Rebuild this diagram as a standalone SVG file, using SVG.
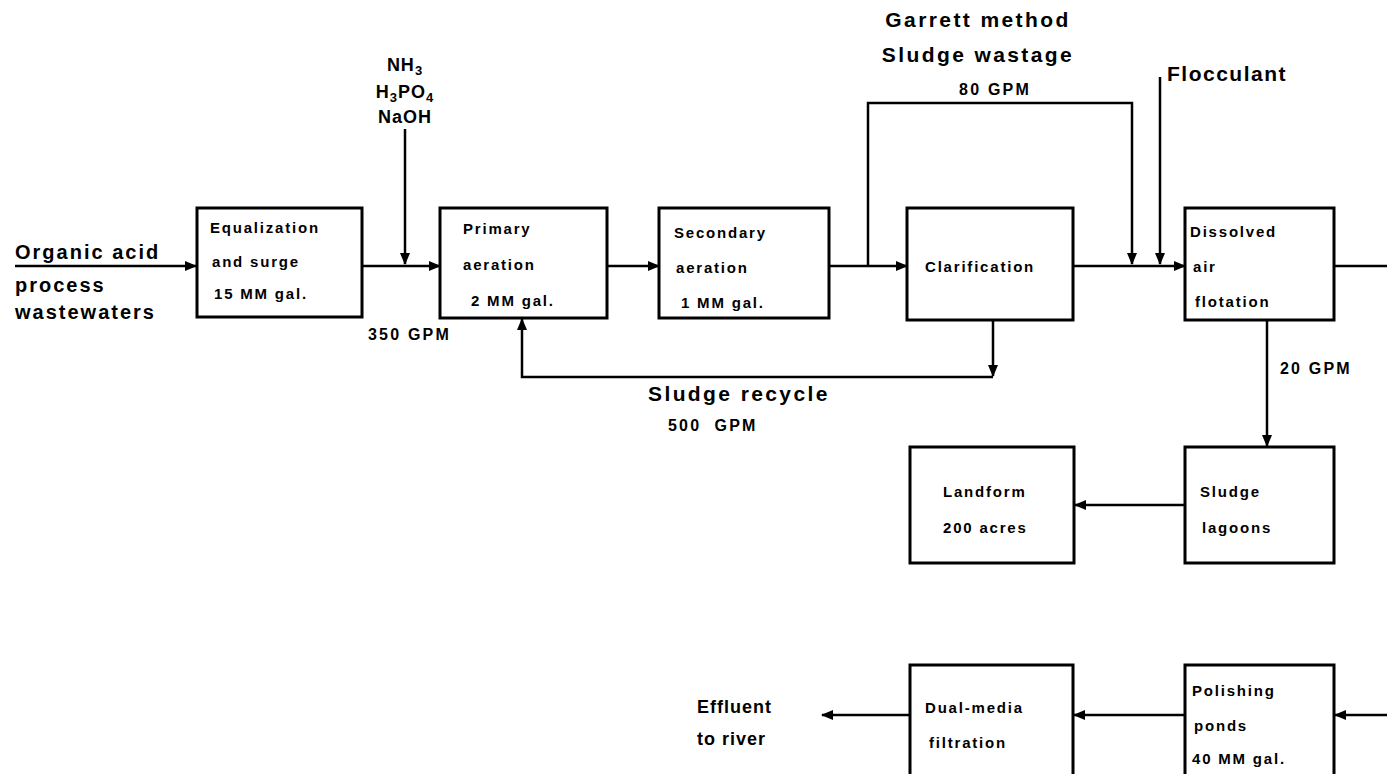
<svg xmlns="http://www.w3.org/2000/svg" width="1387" height="774" viewBox="0 0 1387 774">
<defs>
<marker id="ah" markerWidth="12" markerHeight="10" refX="11" refY="5" orient="auto" markerUnits="userSpaceOnUse">
<path d="M0,0 L12,5 L0,10 Z" fill="#000"/>
</marker>
<style>
.box{fill:#fff;stroke:#000;stroke-width:3}
.ln{fill:none;stroke:#000;stroke-width:2.5}
.bt{font-family:"Liberation Sans",Arial,sans-serif;font-weight:bold;font-size:15px;letter-spacing:1.8px;fill:#000}
.lt{font-family:"Liberation Sans",Arial,sans-serif;font-weight:bold;font-size:20px;letter-spacing:2px;fill:#000}
.ht{font-family:"Liberation Sans",Arial,sans-serif;font-weight:bold;font-size:21px;letter-spacing:2.4px;fill:#000}
.et{font-family:"Liberation Sans",Arial,sans-serif;font-weight:bold;font-size:18px;letter-spacing:1px;fill:#000}
.st{font-family:"Liberation Sans",Arial,sans-serif;font-weight:bold;font-size:16px;letter-spacing:2.2px;fill:#000}
</style>
</defs>
<rect width="1387" height="774" fill="#fff"/>

<g id="connectors">
<line class="ln" x1="15" y1="266" x2="196" y2="266" marker-end="url(#ah)"/>
<line class="ln" x1="362" y1="266" x2="440" y2="266" marker-end="url(#ah)"/>
<line class="ln" x1="405" y1="129" x2="405" y2="264" marker-end="url(#ah)"/>
<line class="ln" x1="607" y1="266" x2="659" y2="266" marker-end="url(#ah)"/>
<line class="ln" x1="829" y1="266" x2="907" y2="266" marker-end="url(#ah)"/>
<polyline class="ln" points="868,266 868,103 1132,103 1132,264" marker-end="url(#ah)"/>
<line class="ln" x1="1073" y1="266" x2="1185" y2="266" marker-end="url(#ah)"/>
<line class="ln" x1="1160" y1="77" x2="1160" y2="264" marker-end="url(#ah)"/>
<line class="ln" x1="1334" y1="266" x2="1387" y2="266"/>
<line class="ln" x1="993" y1="320" x2="993" y2="376" marker-end="url(#ah)"/>
<polyline class="ln" points="993,377 522,377 522,319" marker-end="url(#ah)"/>
<line class="ln" x1="1267" y1="321" x2="1267" y2="446" marker-end="url(#ah)"/>
<line class="ln" x1="1185" y1="505" x2="1075" y2="505" marker-end="url(#ah)"/>
<line class="ln" x1="1387" y1="715" x2="1335" y2="715" marker-end="url(#ah)"/>
<line class="ln" x1="1185" y1="715" x2="1074" y2="715" marker-end="url(#ah)"/>
<line class="ln" x1="910" y1="715" x2="822" y2="715" marker-end="url(#ah)"/>
</g>

<g id="labels">
<text class="lt" x="15" y="259">Organic acid</text>
<text class="lt" x="15" y="292">process</text>
<text class="lt" x="15" y="319">wastewaters</text>
<text class="et" x="405" y="71" text-anchor="middle">NH<tspan font-size="13" dy="4">3</tspan></text>
<text class="et" x="405" y="98" text-anchor="middle">H<tspan font-size="13" dy="4">3</tspan><tspan dy="-4">PO</tspan><tspan font-size="13" dy="4">4</tspan></text>
<text class="et" x="405" y="123" text-anchor="middle">NaOH</text>
<text class="st" x="368" y="340">350 GPM</text>
<text class="ht" x="978" y="27" text-anchor="middle">Garrett method</text>
<text class="ht" x="978" y="62" text-anchor="middle">Sludge wastage</text>
<text class="st" x="995" y="95" text-anchor="middle">80 GPM</text>
<text class="ht" x="1167" y="81" style="letter-spacing:1.5px">Flocculant</text>
<text class="ht" x="648" y="401">Sludge recycle</text>
<text class="st" x="668" y="431">500&#160;&#160;GPM</text>
<text class="st" x="1280" y="374">20 GPM</text>
<text class="et" x="697" y="713">Effluent</text>
<text class="et" x="697" y="745">to river</text>
</g>

<g id="equalization">
<rect class="box" x="197" y="208" width="165" height="109"/>
<text class="bt" x="210" y="233">Equalization</text>
<text class="bt" x="212" y="267">and surge</text>
<text class="bt" x="214" y="299">15 MM gal.</text>
</g>
<g id="primary">
<rect class="box" x="440" y="208" width="167" height="110"/>
<text class="bt" x="463" y="234">Primary</text>
<text class="bt" x="463" y="270">aeration</text>
<text class="bt" x="471" y="306">2 MM gal.</text>
</g>
<g id="secondary">
<rect class="box" x="659" y="208" width="170" height="110"/>
<text class="bt" x="674" y="238">Secondary</text>
<text class="bt" x="676" y="273">aeration</text>
<text class="bt" x="681" y="308">1 MM gal.</text>
</g>
<g id="clarification">
<rect class="box" x="907" y="208" width="166" height="112"/>
<text class="bt" x="925" y="272">Clarification</text>
</g>
<g id="daf">
<rect class="box" x="1185" y="208" width="149" height="112"/>
<text class="bt" x="1190" y="237">Dissolved</text>
<text class="bt" x="1193" y="272">air</text>
<text class="bt" x="1195" y="307">flotation</text>
</g>
<g id="landform">
<rect class="box" x="910" y="447" width="164" height="116"/>
<text class="bt" x="943" y="497">Landform</text>
<text class="bt" x="943" y="533">200 acres</text>
</g>
<g id="lagoons">
<rect class="box" x="1185" y="447" width="149" height="116"/>
<text class="bt" x="1200" y="497">Sludge</text>
<text class="bt" x="1202" y="533">lagoons</text>
</g>
<g id="dualmedia">
<rect class="box" x="910" y="665" width="163" height="112"/>
<text class="bt" x="925" y="713">Dual-media</text>
<text class="bt" x="929" y="748">filtration</text>
</g>
<g id="polishing">
<rect class="box" x="1185" y="665" width="149" height="112"/>
<text class="bt" x="1192" y="696">Polishing</text>
<text class="bt" x="1194" y="731">ponds</text>
<text class="bt" x="1192" y="764">40 MM gal.</text>
</g>
</svg>
